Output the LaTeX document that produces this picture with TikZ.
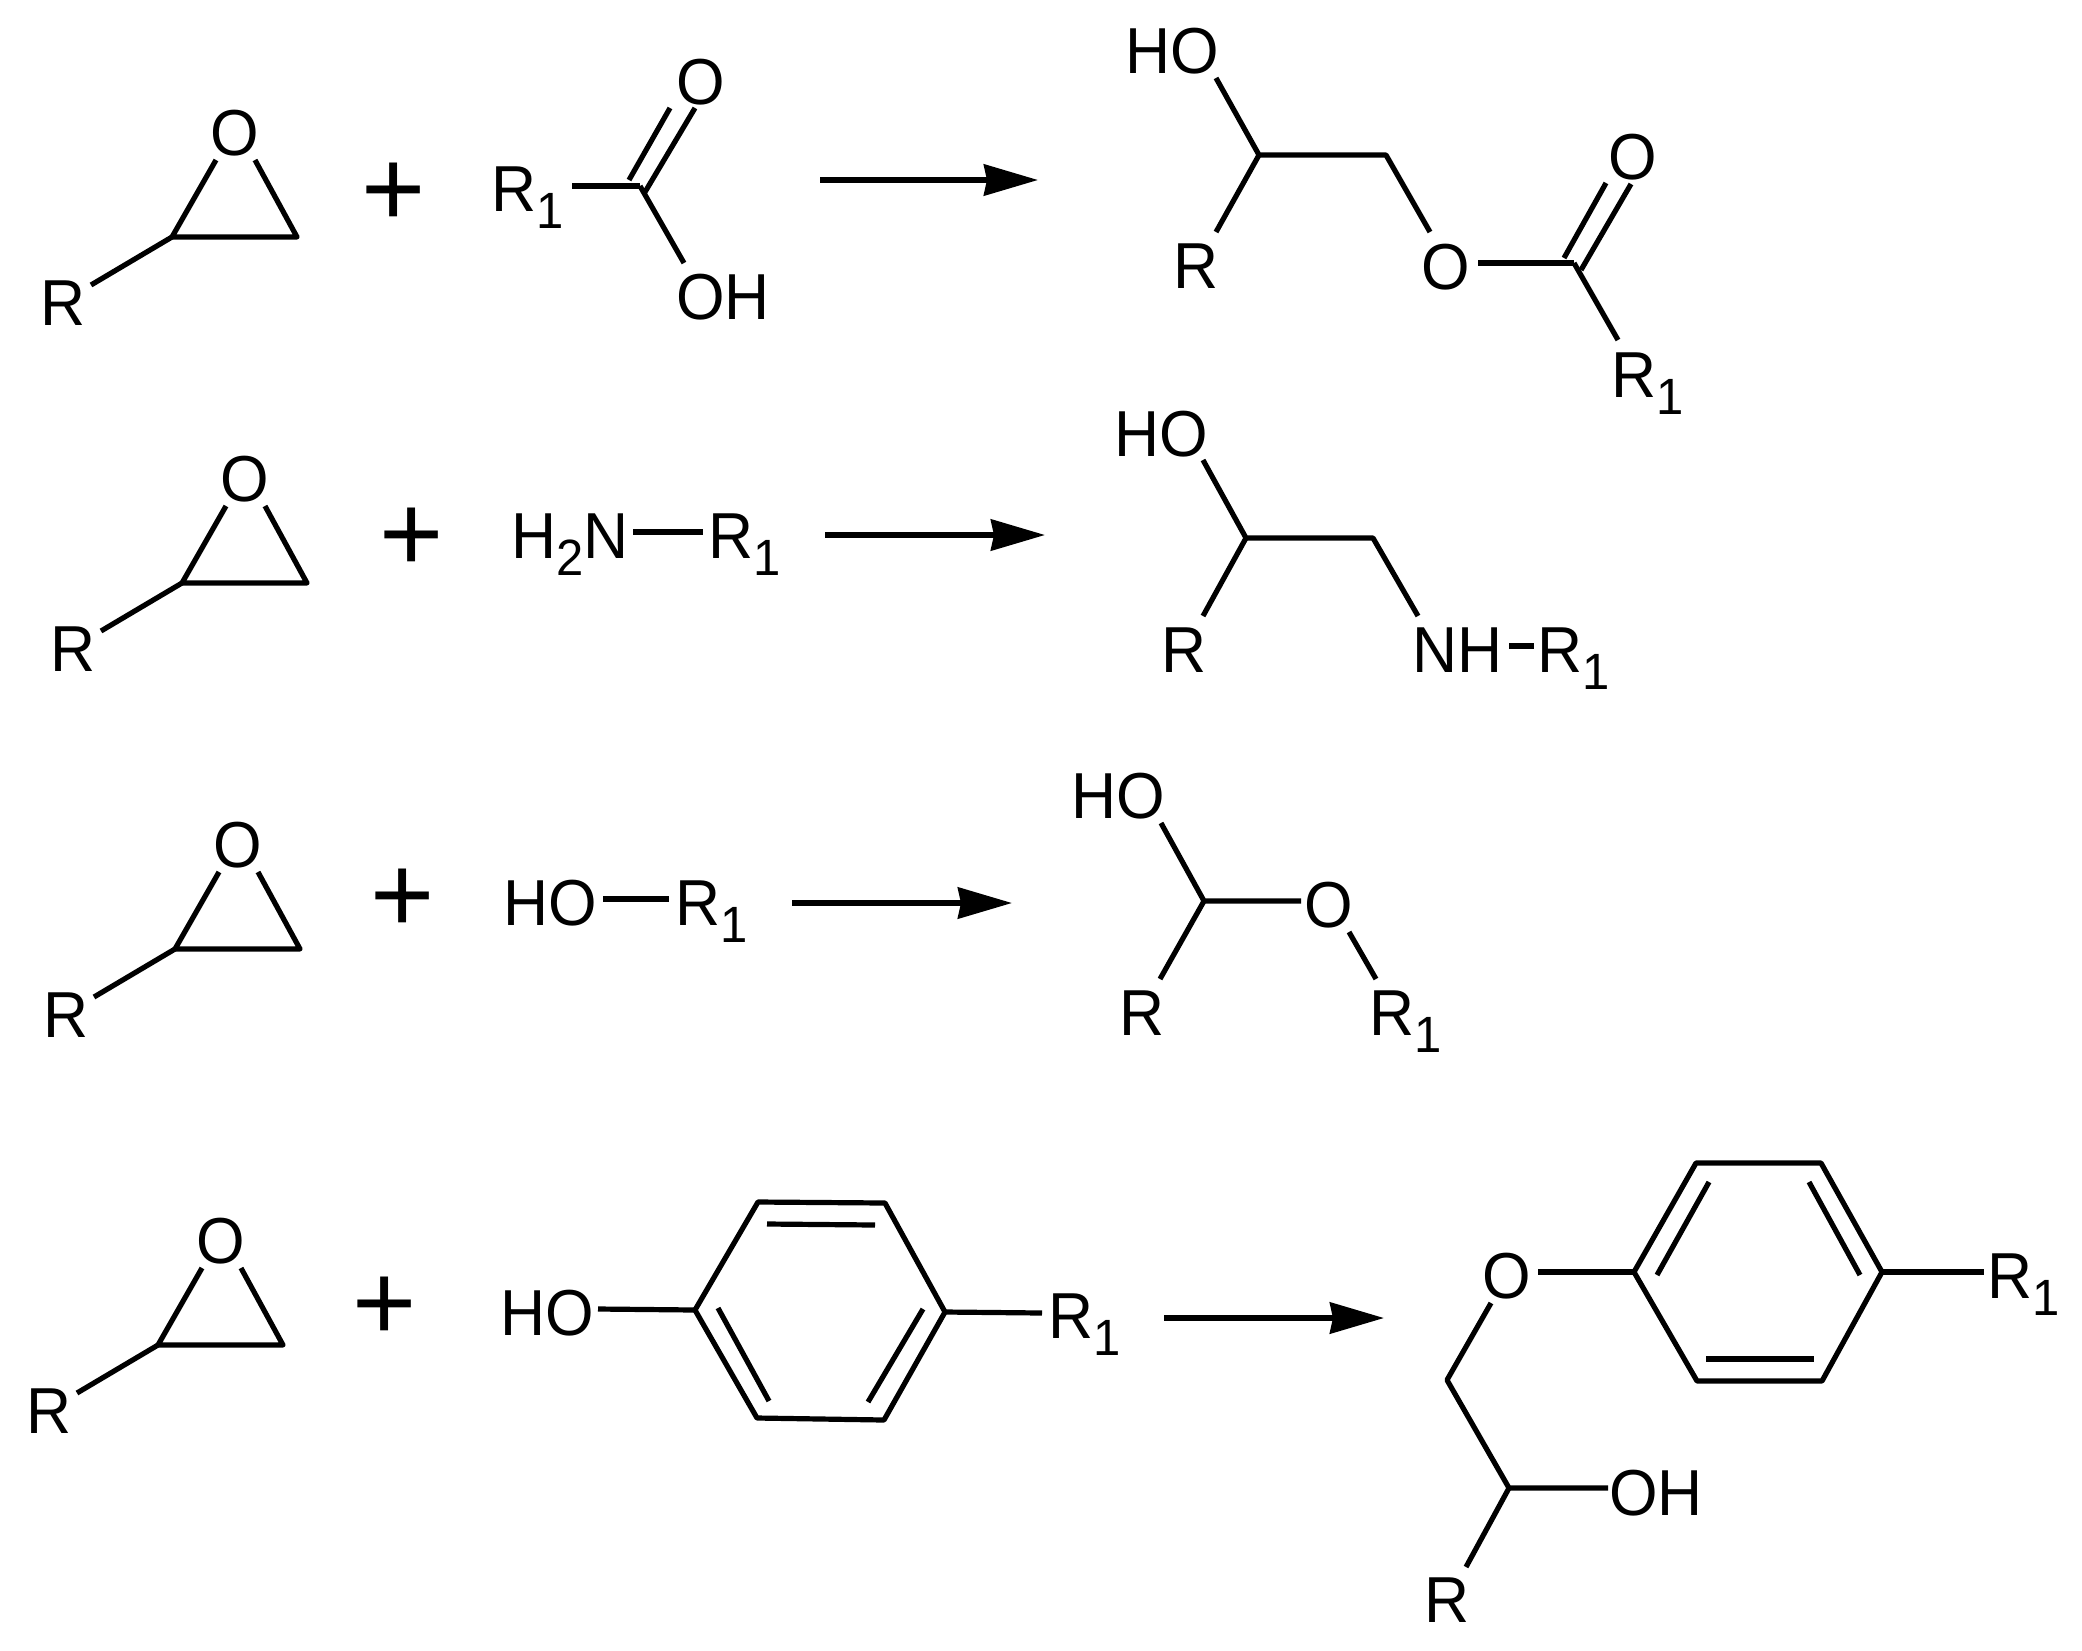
\documentclass[tikz,border=0pt]{standalone}
\usepackage{fontspec}
\setmainfont[FakeStretch=0.96]{Liberation Sans}
\newfontfamily\plusfont{Liberation Sans}
\usetikzlibrary{arrows.meta}
\newcommand{\chemsub}[1]{\raisebox{-17pt}{\fontsize{51pt}{51pt}\selectfont #1}}
\tikzset{
  atom/.style={inner sep=0pt,anchor=base west,font=\fontsize{65pt}{65pt}\selectfont},
  oxy/.style={inner sep=0pt,anchor=base,font=\fontsize{65pt}{65pt}\selectfont},
  plus/.style={inner sep=0pt,anchor=base,font=\plusfont\fontsize{110pt}{110pt}\selectfont},
  bond/.style={draw=black,line width=5.2pt,line join=round},
  rxn/.style={draw=black,line width=5.4pt,-{Stealth[length=54pt,width=31pt,inset=3pt]}}
}
% epoxide: prefix, row offset x, row offset y
\newcommand{\epoxide}[3]{
  \begin{scope}[shift={(#2,#3)}]
    \node[oxy] (#1O) at (235,155) {O};
    \node[atom] (#1R) at (40,325) {R};
    \coordinate (#1a) at (172,237);
    \coordinate (#1b) at (297,237);
    \draw[bond] ([shift={(-19,5)}]#1O.base) -- (#1a) -- (#1b) -- ([shift={(20,5)}]#1O.base);
    \draw[bond] (#1a) -- ([shift={(51,-40)}]#1R.base west);
  \end{scope}
}
\begin{document}
\begin{tikzpicture}[x=1pt,y=-1pt]
\useasboundingbox (0,0) rectangle (2082,1650);
\fill[white] (0,0) rectangle (2082,1650);

% ---------- Row 1 ----------
\epoxide{ea}{0}{0}
\node[plus] (pa) at (393.5,226) {+};
\node[atom] (ar) at (491,211) {R\chemsub{1}};
\node[oxy] (ao) at (701,104) {O};
\node[atom] (aoh) at (676,319) {OH};
\coordinate (ac) at (640,186);
\coordinate (acl) at (629,180);
\coordinate (acr) at (645,192);
\draw[bond] ([shift={(81,-25)}]ar.base west) -- (ac);
\draw[bond] (acl) -- ([shift={(-31,4)}]ao.base);
\draw[bond] (acr) -- ([shift={(-6,4)}]ao.base);
\draw[bond] (ac) -- ([shift={(8,-56)}]aoh.base west);
\coordinate (aas) at (820,180);
\coordinate (aae) at (1038,180);
\draw[rxn] (aas) -- (aae);
% product 1
\node[atom] (bho) at (1125,73) {HO};
\node[atom] (br) at (1173,288) {R};
\node[oxy] (bo) at (1446,289) {O};
\node[oxy] (bdo) at (1633,179) {O};
\node[atom] (brr) at (1611,397) {R\chemsub{1}};
\coordinate (bc) at (1259,155);
\coordinate (bd) at (1386,155);
\coordinate (be) at (1574,263);
\coordinate (bel) at (1564,258);
\coordinate (ber) at (1581,270);
\draw[bond] ([shift={(91,5)}]bho.base west) -- (bc) -- (bd) -- ([shift={(-16,-57)}]bo.base);
\draw[bond] (bc) -- ([shift={(43,-56)}]br.base west);
\draw[bond] ([shift={(32,-26)}]bo.base) -- (be);
\draw[bond] (bel) -- ([shift={(-27,4)}]bdo.base);
\draw[bond] (ber) -- ([shift={(-2,5)}]bdo.base);
\draw[bond] (be) -- ([shift={(7,-57)}]brr.base west);

% ---------- Row 2 ----------
\epoxide{eb}{10}{346}
\node[plus] (pb) at (411.5,571) {+};
\node[atom] (cn) at (511,558) {H\chemsub{2}N};
\node[atom] (cr) at (708,558) {R\chemsub{1}};
\draw[bond] ([shift={(122,-26)}]cn.base west) -- ([shift={(-5,-26)}]cr.base west);
\coordinate (cas) at (825,535);
\coordinate (cae) at (1045,535);
\draw[rxn] (cas) -- (cae);
% product 2
\node[atom] (dho) at (1114,456) {HO};
\node[atom] (dr) at (1161,672) {R};
\node[atom] (dnh) at (1412,672) {NH};
\node[atom] (drr) at (1537,672) {R\chemsub{1}};
\coordinate (dc) at (1246,538);
\coordinate (dd) at (1373,538);
\draw[bond] ([shift={(89,4)}]dho.base west) -- (dc) -- (dd) -- ([shift={(6,-56)}]dnh.base west);
\draw[bond] (dc) -- ([shift={(42,-56)}]dr.base west);
\draw[bond] ([shift={(97,-26)}]dnh.base west) -- ([shift={(-3,-26)}]drr.base west);

% ---------- Row 3 ----------
\epoxide{ec}{3}{712}
\node[plus] (pc) at (403,932.5) {+};
\node[atom] (fh) at (503,925) {HO};
\node[atom] (fr) at (675,925) {R\chemsub{1}};
\draw[bond] ([shift={(100,-26)}]fh.base west) -- ([shift={(-6,-26)}]fr.base west);
\coordinate (fas) at (792,903);
\coordinate (fae) at (1012,903);
\draw[rxn] (fas) -- (fae);
% product 3
\node[atom] (gho) at (1071,818) {HO};
\node[atom] (gr) at (1119,1035) {R};
\node[oxy] (go) at (1329,927) {O};
\node[atom] (grr) at (1369,1035) {R\chemsub{1}};
\coordinate (gc) at (1204,901);
\draw[bond] ([shift={(90,5)}]gho.base west) -- (gc) -- ([shift={(-28,-26)}]go.base);
\draw[bond] (gc) -- ([shift={(41,-56)}]gr.base west);
\draw[bond] ([shift={(20,5)}]go.base) -- ([shift={(7,-56)}]grr.base west);

% ---------- Row 4 ----------
\epoxide{ed}{-14}{1108}
\node[plus] (pd) at (385,1340) {+};
\node[atom] (hho) at (500,1335) {HO};
\node[atom] (hrr) at (1048,1338) {R\chemsub{1}};
\coordinate (h1) at (695,1310);
\coordinate (h2) at (758,1202);
\coordinate (h3) at (885,1203);
\coordinate (h4) at (945,1312);
\coordinate (h5) at (884,1420);
\coordinate (h6) at (757,1418);
\draw[bond] (h1) -- (h2) -- (h3) -- (h4) -- (h5) -- (h6) -- cycle;
\coordinate (hia) at (767,1224);
\coordinate (hib) at (875,1225);
\coordinate (hic) at (718,1308);
\coordinate (hid) at (769,1401);
\coordinate (hie) at (923,1309);
\coordinate (hif) at (868,1402);
\draw[bond] (hia) -- (hib);
\draw[bond] (hic) -- (hid);
\draw[bond] (hie) -- (hif);
\draw[bond] ([shift={(98,-26)}]hho.base west) -- (h1);
\draw[bond] (h4) -- ([shift={(-6,-25)}]hrr.base west);
\coordinate (has) at (1164,1318);
\coordinate (hae) at (1384,1318);
\draw[rxn] (has) -- (hae);
% product 4
\node[oxy] (jo) at (1507,1298) {O};
\node[atom] (jrr) at (1987,1298) {R\chemsub{1}};
\node[atom] (joh) at (1609,1515) {OH};
\node[atom] (jr) at (1424,1622) {R};
\coordinate (j1) at (1634,1272);
\coordinate (j2) at (1696,1163);
\coordinate (j3) at (1821,1163);
\coordinate (j4) at (1882,1272);
\coordinate (j5) at (1822,1381);
\coordinate (j6) at (1697,1381);
\draw[bond] (j1) -- (j2) -- (j3) -- (j4) -- (j5) -- (j6) -- cycle;
\coordinate (jia) at (1657,1275);
\coordinate (jib) at (1709,1182);
\coordinate (jic) at (1809,1182);
\coordinate (jid) at (1860,1275);
\coordinate (jie) at (1706,1359);
\coordinate (jif) at (1814,1359);
\draw[bond] (jia) -- (jib);
\draw[bond] (jic) -- (jid);
\draw[bond] (jie) -- (jif);
\draw[bond] ([shift={(31,-26)}]jo.base) -- (j1);
\draw[bond] (j4) -- ([shift={(-3,-26)}]jrr.base west);
\coordinate (jch) at (1447,1380);
\coordinate (jcm) at (1509,1488);
\draw[bond] ([shift={(-16,5)}]jo.base) -- (jch) -- (jcm) -- ([shift={(-1,-27)}]joh.base west);
\draw[bond] (jcm) -- ([shift={(42,-55)}]jr.base west);
\end{tikzpicture}
\end{document}
